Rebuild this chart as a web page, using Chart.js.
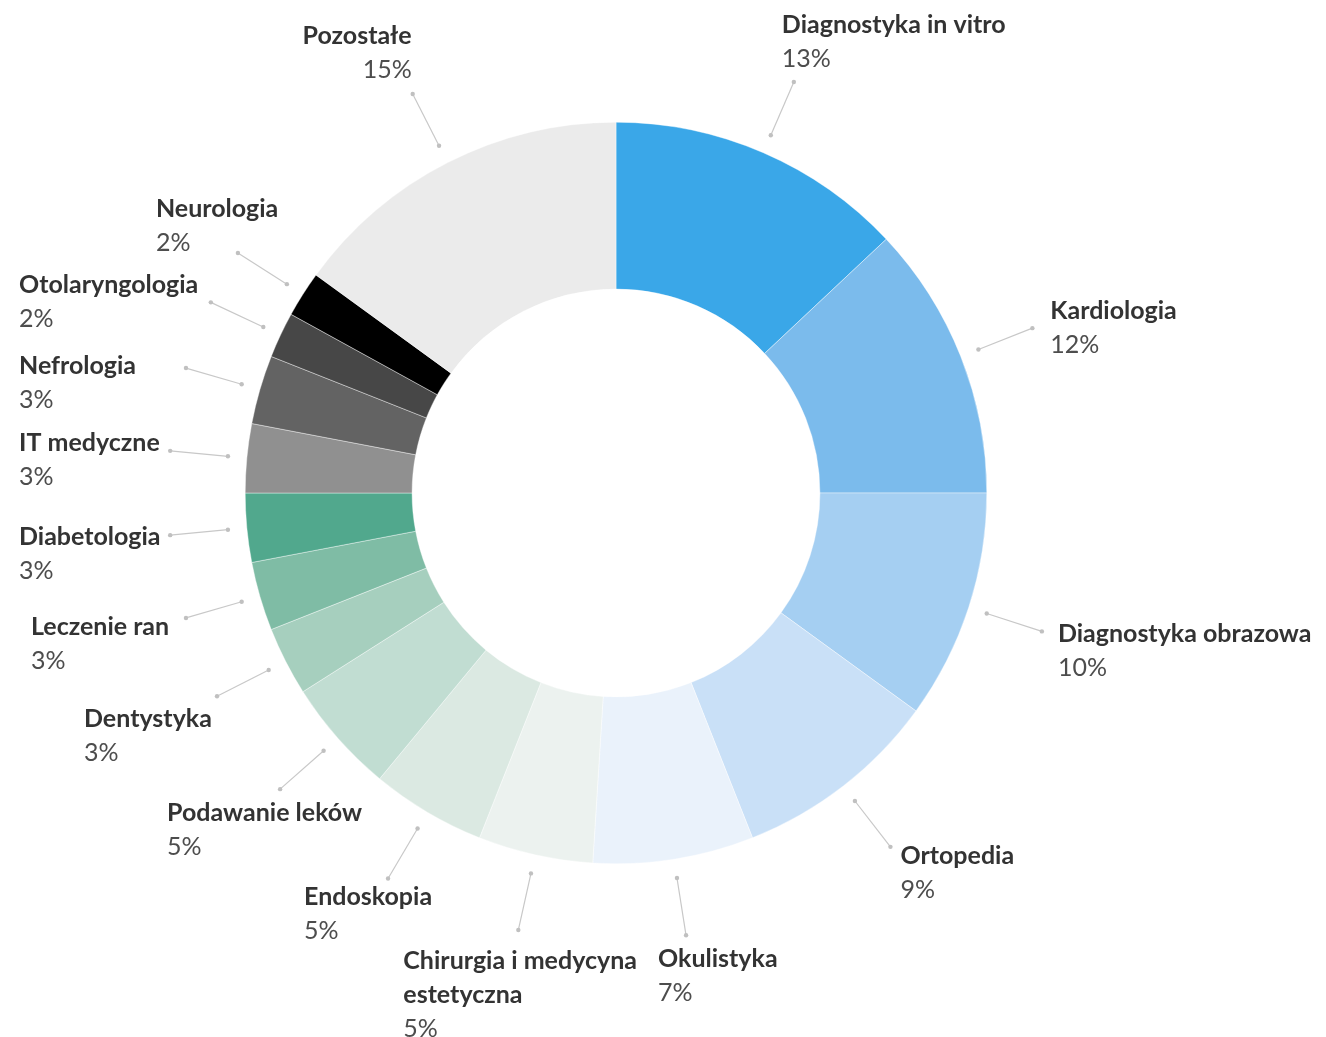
<!DOCTYPE html>
<html lang="pl">
<head>
<meta charset="utf-8">
<title>Struktura rynku wyrobów medycznych</title>
<script src="https://cdn.jsdelivr.net/npm/chart.js@4.4.1/dist/chart.umd.min.js"></script>
<style>
  html, body { margin: 0; padding: 0; background: #fff; }
  #wrap { position: relative; width: 1326px; height: 1037px; }
</style>
</head>
<body>
<div id="wrap"><canvas id="rynek"></canvas></div>
<script>
// Segmenty rynku i ich udział (%)
const segmenty = [
    'Diagnostyka in vitro', 'Kardiologia', 'Diagnostyka obrazowa', 'Ortopedia',
    'Okulistyka', 'Chirurgia i medycyna estetyczna', 'Endoskopia', 'Podawanie leków',
    'Dentystyka', 'Leczenie ran', 'Diabetologia', 'IT medyczne', 'Nefrologia',
    'Otolaryngologia', 'Neurologia', 'Pozostałe'
];
const udzialy = [13, 12, 10, 9, 7, 5, 5, 5, 3, 3, 3, 3, 3, 2, 2, 15];

// Kolory segmentów
const kolory = [
    '#3aa7e8', '#7bbbec', '#a5cff2', '#c9e0f7',
    '#eaf2fb', '#ecf2ef', '#dbe9e2', '#c1ddd2',
    '#a6cfbe', '#7fbca5', '#51a88d', '#909090', '#636363',
    '#474747', '#000000', '#ebebeb'
];

// Podpisy: przesunięcie względem końca linii odniesienia (albo stała kolumna x),
// wyrównanie, łamanie wiersza
const podpisy = [
    { dx: -12, dy: -57, align: 'left' },
    { dx: 18, dy: -17, align: 'left' },
    { dx: 16, dy: 3, align: 'left' },
    { dx: 10, dy: 9, align: 'left' },
    { dx: -28, dy: 24, align: 'left' },
    { dx: -115, dy: 31, align: 'left', lines: ['Chirurgia i medycyna', 'estetyczna'] },
    { dx: -84, dy: 18, align: 'left' },
    { dx: -113, dy: 24, align: 'left' },
    { dx: -133, dy: 23, align: 'left' },
    { dx: -155, dy: 9, align: 'left' },
    { col: 19, dy: 2, align: 'left' },
    { col: 19, dy: -8, align: 'left' },
    { col: 19, dy: -2, align: 'left' },
    { col: 19, dy: -17, align: 'left' },
    { dx: -82, dy: -44, align: 'left' },
    { dx: -1, dy: -58, align: 'right' }
];

const LINE_HEIGHT = 34;

// Linie odniesienia i opisy segmentów rysowane na zewnątrz pierścienia
const leaderLabels = {
    id: 'leaderLabels',
    afterDatasetsDraw(chart) {
        const ctx = chart.ctx;
        const meta = chart.getDatasetMeta(0);
        ctx.save();
        meta.data.forEach((arc, i) => {
            const { x, y, startAngle, endAngle, outerRadius } =
                arc.getProps(['x', 'y', 'startAngle', 'endAngle', 'outerRadius'], true);
            const mid = (startAngle + endAngle) / 2;
            const cos = Math.cos(mid), sin = Math.sin(mid);
            const r1 = outerRadius + 19, r2 = outerRadius + 77;
            const x1 = x + cos * r1, y1 = y + sin * r1;
            const x2 = x + cos * r2, y2 = y + sin * r2;

            ctx.strokeStyle = '#c8c8c8';
            ctx.lineWidth = 1.2;
            ctx.beginPath();
            ctx.moveTo(x1, y1);
            ctx.lineTo(x2, y2);
            ctx.stroke();
            ctx.fillStyle = '#c0c0c0';
            [[x1, y1], [x2, y2]].forEach(([px, py]) => {
                ctx.beginPath();
                ctx.arc(px, py, 2.2, 0, Math.PI * 2);
                ctx.fill();
            });

            const p = podpisy[i];
            const tx = p.col !== undefined ? p.col : x2 + p.dx;
            let ty = y2 + p.dy;
            const nazwa = p.lines || [segmenty[i]];
            ctx.textAlign = p.align;
            ctx.textBaseline = 'middle';
            ctx.font = 'bold 25px Lato';
            ctx.fillStyle = '#333333';
            nazwa.forEach((t) => {
                ctx.fillText(t, tx, ty);
                ty += LINE_HEIGHT;
            });
            ctx.font = '25px Lato';
            ctx.fillStyle = '#4d4d4d';
            ctx.fillText(udzialy[i] + '%', tx, ty);
        });
        ctx.restore();
    }
};

new Chart(document.getElementById('rynek'), {
    type: 'doughnut',
    data: {
        labels: segmenty,
        datasets: [{
            data: udzialy,
            backgroundColor: kolory,
            borderColor: '#ffffff',
            borderWidth: 0.4,
            hoverOffset: 0
        }]
    },
    options: {
        responsive: true,
        maintainAspectRatio: false,
        animation: false,
        cutout: '55%',
        layout: {
            padding: { top: 122, bottom: 173, left: 245, right: 339 }
        },
        plugins: {
            legend: { display: false },
            tooltip: { enabled: false }
        }
    },
    plugins: [leaderLabels]
});
</script>
</body>
</html>
